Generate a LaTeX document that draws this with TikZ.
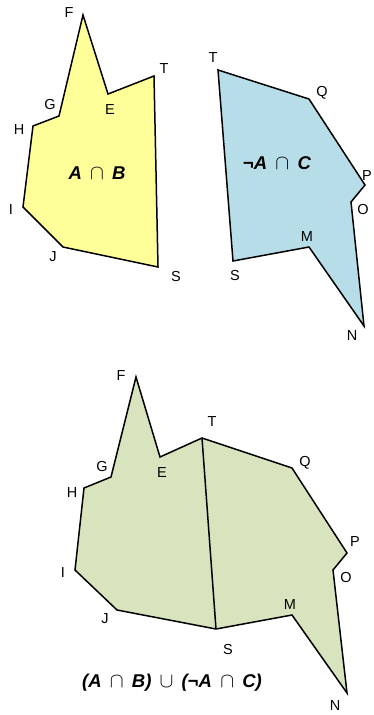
\documentclass[tikz,border=0pt]{standalone}
\usepackage{fontspec}
\setmainfont{Liberation Sans}
\usetikzlibrary{positioning}

\definecolor{yellowfill}{RGB}{255,255,153}
\definecolor{bluefill}{RGB}{183,222,232}
\definecolor{greenfill}{RGB}{215,228,189}

\newcommand{\capop}{\,{\fontsize{21}{21}\selectfont$\cap$}\,}
\newcommand{\cupop}{\,{\fontsize{21}{21}\selectfont$\cup$}\,}

\tikzset{
  ptlabel/.style={font=\fontsize{14.5}{14.5}\selectfont, inner sep=0pt},
  region/.style={draw=black, line width=1.5pt, line join=miter},
  setlabel/.style={font=\fontsize{18.5}{18.5}\selectfont\bfseries\itshape, inner sep=0pt},
}

\begin{document}
\begin{tikzpicture}[x=1pt, y=-1pt]
    \useasboundingbox (0,0) rectangle (373,715);

    % A and B
    \coordinate (aF) at (83,15);
    \coordinate (aE) at (108,94);
    \coordinate (aT) at (154,76);
    \coordinate (aS) at (158,267);
    \coordinate (aJ) at (63,247);
    \coordinate (aI) at (23,207);
    \coordinate (aH) at (33,126);
    \coordinate (aG) at (59,116);
    \draw[region, fill=yellowfill] (aF) -- (aE) -- (aT) -- (aS) -- (aJ) -- (aI) -- (aH) -- (aG) -- cycle;

    \node[ptlabel] (laF) at (69,13) {F};
    \node[ptlabel] (laG) at (50,105) {G};
    \node[ptlabel] (laE) at (110,110) {E};
    \node[ptlabel] (laT) at (164,69) {T};
    \node[ptlabel] (laH) at (19,130) {H};
    \node[ptlabel] (laI) at (11,210) {I};
    \node[ptlabel] (laJ) at (53,257) {J};
    \node[ptlabel] (laS) at (176,277) {S};
    \node[setlabel] (ab) at (97,173) {A \capop\ B};

    % not A and C
    \coordinate (cT) at (218,70);
    \coordinate (cQ) at (309,99);
    \coordinate (cP) at (365,185);
    \coordinate (cO) at (351,202);
    \coordinate (cN) at (364,326);
    \coordinate (cM) at (309,247);
    \coordinate (cS) at (233,261);
    \draw[region, fill=bluefill] (cT) -- (cQ) -- (cP) -- (cO) -- (cN) -- (cM) -- (cS) -- cycle;

    \node[ptlabel] (lcT) at (213,58) {T};
    \node[ptlabel] (lcQ) at (322,93) {Q};
    \node[ptlabel] (lcP) at (367,176) {P};
    \node[ptlabel] (lcO) at (363,210) {O};
    \node[ptlabel] (lcM) at (307,237) {M};
    \node[ptlabel] (lcS) at (235,276) {S};
    \node[ptlabel] (lcN) at (352,336) {N};
    \node[setlabel] (nac) at (277,163) {¬A \capop\ C};

    % union
    \coordinate (uF) at (136,377);
    \coordinate (uE) at (160,457);
    \coordinate (uT) at (202,438);
    \coordinate (uQ) at (292,468);
    \coordinate (uP) at (347,553);
    \coordinate (uO) at (333,570);
    \coordinate (uN) at (347,693);
    \coordinate (uM) at (292,615);
    \coordinate (uS) at (216,629);
    \coordinate (uJ) at (117,610);
    \coordinate (uI) at (75,570);
    \coordinate (uH) at (84,488);
    \coordinate (uG) at (111,477);
    \draw[region, fill=greenfill] (uF) -- (uE) -- (uT) -- (uQ) -- (uP) -- (uO) -- (uN) -- (uM) -- (uS) -- (uJ) -- (uI) -- (uH) -- (uG) -- cycle;
    \draw[region] (uT) -- (uS);

    \node[ptlabel] (luF) at (121,376) {F};
    \node[ptlabel] (luG) at (102,467) {G};
    \node[ptlabel] (luE) at (162,473) {E};
    \node[ptlabel] (luT) at (212,422) {T};
    \node[ptlabel] (luQ) at (305,463) {Q};
    \node[ptlabel] (luP) at (355,542) {P};
    \node[ptlabel] (luO) at (346,578) {O};
    \node[ptlabel] (luM) at (290,605) {M};
    \node[ptlabel] (luH) at (72,493) {H};
    \node[ptlabel] (luI) at (63,573) {I};
    \node[ptlabel] (luJ) at (105,619) {J};
    \node[ptlabel] (luS) at (228,650) {S};
    \node[ptlabel] (luN) at (335,706) {N};
    \node[setlabel] (union) at (172,683) {(A \capop\ B) \cupop\ (¬A \capop\ C)};
\end{tikzpicture}
\end{document}
